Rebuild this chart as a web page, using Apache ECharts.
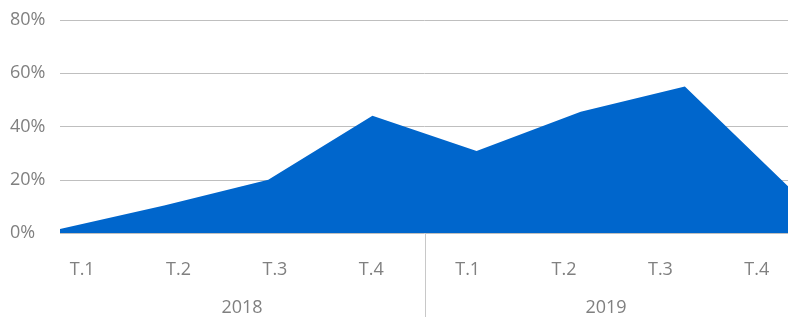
<!DOCTYPE html>
<html>
<head>
<meta charset="utf-8">
<script src="https://cdn.jsdelivr.net/npm/echarts@6/dist/echarts.min.js"></script>
<style>
  html, body { margin: 0; padding: 0; background: #ffffff; }
  #chart { width: 788px; height: 317px; }
</style>
</head>
<body>
<div id="chart"></div>
<script>
  // 季度 / 年份
  var quarters = ['T.1', 'T.2', 'T.3', 'T.4', 'T.1', 'T.2', 'T.3', 'T.4'];
  var years = ['2018', '2019'];
  // 数值 (%)
  var values = [1.5, 10.3, 20, 44, 30.8, 45.5, 55, 17.2];
  var yTicks = [0, 20, 40, 60, 80];

  var labelColor = '#808080';
  var font = '"Open Sans", sans-serif';

  var chart = echarts.init(document.getElementById('chart'));
  chart.setOption({
    animation: false,
    grid: [
      {left: 60, right: -1, top: 20, bottom: 84, outerBoundsMode: 'none'},   // 主图
      {left: 34, width: 771, top: 200, height: 33, outerBoundsMode: 'none'}, // 季度标签
      {left: 60, right: 0, top: 200, height: 33, outerBoundsMode: 'none'},   // 年份标签
      {left: 425, right: 0, top: 233, bottom: 0, outerBoundsMode: 'none'}    // 分隔线
    ],
    xAxis: [
      {
        gridIndex: 0,
        type: 'category',
        data: quarters.map(function (q, i) { return i; }),
        boundaryGap: false,
        axisLine: {show: false},
        axisTick: {show: false},
        axisLabel: {show: false}
      },
      {
        gridIndex: 1,
        type: 'category',
        data: quarters,
        axisLine: {show: false},
        axisTick: {show: false},
        axisLabel: {margin: 27, color: labelColor, fontSize: 18, fontFamily: font, lineHeight: 20, interval: 0}
      },
      {
        gridIndex: 2,
        type: 'category',
        data: years,
        axisLine: {show: false},
        axisTick: {show: false},
        axisLabel: {margin: 65, color: labelColor, fontSize: 18, fontFamily: font, lineHeight: 20}
      },
      {gridIndex: 3, type: 'value', show: false}
    ],
    yAxis: [
      {
        gridIndex: 0,
        type: 'value',
        min: yTicks[0],
        max: yTicks[yTicks.length - 1],
        interval: 20,
        axisLine: {show: false},
        axisTick: {show: false},
        splitLine: {lineStyle: {color: '#bfbfbf', width: 1}},
        axisLabel: {
          formatter: '{value}%',
          align: 'left',
          margin: 50,
          color: labelColor,
          fontSize: 18,
          fontFamily: font
        }
      },
      {gridIndex: 1, type: 'value', show: false},
      {gridIndex: 2, type: 'value', show: false},
      {
        gridIndex: 3,
        type: 'value',
        axisLine: {show: true, lineStyle: {color: '#c8c8c8', width: 1}},
        axisTick: {show: false},
        axisLabel: {show: false},
        splitLine: {show: false}
      }
    ],
    series: [{
      type: 'line',
      xAxisIndex: 0,
      yAxisIndex: 0,
      data: values,
      symbol: 'none',
      lineStyle: {width: 0},
      areaStyle: {color: '#0066cc', opacity: 1}
    }]
  });
</script>
</body>
</html>
